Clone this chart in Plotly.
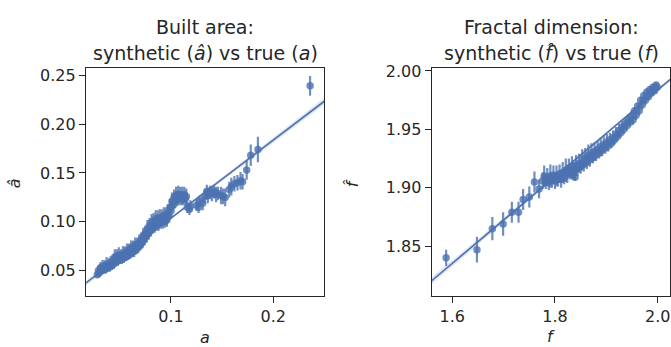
import plotly.graph_objects as go
import numpy as np

# ---------------- data: built area ----------------
a_true = [0.028, 0.029, 0.030, 0.031, 0.032, 0.033, 0.034, 0.035, 0.036, 0.037,
          0.038, 0.039, 0.040, 0.041, 0.042, 0.043, 0.044, 0.045, 0.046, 0.047,
          0.048, 0.049, 0.050, 0.051, 0.052, 0.053, 0.054, 0.055, 0.056, 0.057,
          0.058, 0.059, 0.060, 0.061, 0.062, 0.063, 0.064, 0.065, 0.066, 0.067,
          0.068, 0.069, 0.070, 0.071, 0.072, 0.073, 0.074, 0.075, 0.076, 0.077,
          0.078, 0.079, 0.080, 0.081, 0.082, 0.083, 0.084, 0.085, 0.086, 0.087,
          0.088, 0.089, 0.090, 0.091, 0.092, 0.093, 0.094, 0.095, 0.096, 0.097,
          0.098, 0.099, 0.100, 0.101, 0.102, 0.103, 0.104, 0.105, 0.106, 0.107,
          0.108, 0.109, 0.110, 0.111, 0.112, 0.113, 0.114, 0.115,
          0.116, 0.118, 0.119, 0.125, 0.127, 0.128, 0.131, 0.133, 0.135, 0.136,
          0.138, 0.140, 0.142, 0.144, 0.146, 0.149, 0.151, 0.153, 0.157, 0.159,
          0.162, 0.165, 0.168, 0.170, 0.174, 0.178, 0.185, 0.236]
a_synth = [0.046, 0.050, 0.048, 0.053, 0.050, 0.054, 0.051, 0.055, 0.052, 0.056,
           0.053, 0.057, 0.054, 0.058, 0.055, 0.060, 0.057, 0.064, 0.059, 0.065,
           0.060, 0.066, 0.061, 0.066, 0.062, 0.067, 0.063, 0.068, 0.064, 0.070,
           0.066, 0.071, 0.067, 0.073, 0.069, 0.074, 0.070, 0.076, 0.072, 0.077,
           0.074, 0.079, 0.076, 0.082, 0.079, 0.086, 0.082, 0.089, 0.085, 0.093,
           0.088, 0.096, 0.091, 0.099, 0.094, 0.101, 0.096, 0.103, 0.097, 0.104,
           0.098, 0.104, 0.099, 0.105, 0.100, 0.106, 0.100, 0.107, 0.102, 0.109,
           0.106, 0.115, 0.111, 0.121, 0.117, 0.125, 0.121, 0.127, 0.123, 0.128,
           0.124, 0.128, 0.124, 0.127, 0.123, 0.128, 0.124, 0.126,
           0.115, 0.113, 0.116, 0.117, 0.115, 0.121, 0.119, 0.126, 0.131, 0.127,
           0.130, 0.129, 0.131, 0.128, 0.129, 0.127, 0.126, 0.125, 0.133, 0.136,
           0.139, 0.140, 0.142, 0.141, 0.153, 0.168, 0.174, 0.239]
a_err = [0.003, 0.005, 0.004, 0.006, 0.004, 0.007, 0.004, 0.006, 0.005, 0.008,
         0.004, 0.006, 0.005, 0.007, 0.004, 0.006, 0.005, 0.008, 0.004, 0.007,
         0.005, 0.008, 0.004, 0.006, 0.005, 0.008, 0.005, 0.007, 0.004, 0.008,
         0.005, 0.007, 0.005, 0.008, 0.005, 0.007, 0.006, 0.008, 0.005, 0.007,
         0.006, 0.008, 0.005, 0.007, 0.006, 0.008, 0.006, 0.007, 0.006, 0.009,
         0.006, 0.008, 0.006, 0.009, 0.006, 0.008, 0.007, 0.009, 0.006, 0.008,
         0.007, 0.009, 0.006, 0.008, 0.007, 0.009, 0.006, 0.008, 0.007, 0.009,
         0.006, 0.008, 0.007, 0.009, 0.006, 0.008, 0.007, 0.009, 0.007, 0.009,
         0.007, 0.008, 0.007, 0.009, 0.006, 0.008, 0.007, 0.008,
         0.006, 0.006, 0.006, 0.006, 0.006, 0.006, 0.007, 0.007, 0.007, 0.008,
         0.007, 0.008, 0.007, 0.008, 0.007, 0.009, 0.008, 0.009, 0.008, 0.009,
         0.008, 0.008, 0.009, 0.008, 0.010, 0.011, 0.013, 0.010]
a_fit_slope = 0.797
a_fit_intercept = 0.0241
a_ci_x = [0.0169, 0.09, 0.25]
a_ci_half = [0.0025, 0.0008, 0.0035]

# ---------------- data: fractal dimension ----------------
f_true = [1.588, 1.648, 1.678, 1.699, 1.716, 1.729, 1.738, 1.750, 1.760, 1.769,
          1.776, 1.779, 1.782, 1.785, 1.788, 1.791, 1.794, 1.797, 1.800, 1.803,
          1.806, 1.809, 1.812, 1.815, 1.818, 1.821, 1.824, 1.827, 1.830, 1.833,
          1.835, 1.837, 1.839, 1.841, 1.844, 1.847, 1.850, 1.853, 1.856, 1.859,
          1.862, 1.865, 1.868, 1.871, 1.874, 1.877, 1.880, 1.883, 1.886, 1.889,
          1.892, 1.895, 1.898, 1.901, 1.904, 1.907, 1.910, 1.913, 1.916, 1.919,
          1.922, 1.925, 1.928, 1.931, 1.934, 1.937, 1.940, 1.943, 1.946, 1.949,
          1.952, 1.955, 1.958, 1.961, 1.964, 1.967, 1.970, 1.973, 1.976, 1.979,
          1.982, 1.985, 1.988, 1.991, 1.994, 1.997, 1.999]
f_synth = [1.840, 1.847, 1.865, 1.869, 1.879, 1.879, 1.890, 1.892, 1.905, 1.899,
           1.906, 1.910, 1.905, 1.909, 1.905, 1.910, 1.906, 1.911, 1.906, 1.910,
           1.907, 1.912, 1.907, 1.913, 1.909, 1.915, 1.911, 1.917, 1.913, 1.918,
           1.911, 1.915, 1.909, 1.919, 1.916, 1.921, 1.918, 1.924, 1.920, 1.926,
           1.922, 1.928, 1.924, 1.930, 1.926, 1.931, 1.928, 1.933, 1.930, 1.935,
           1.932, 1.937, 1.934, 1.939, 1.936, 1.941, 1.938, 1.943, 1.941, 1.946,
           1.944, 1.949, 1.947, 1.952, 1.950, 1.955, 1.953, 1.958, 1.956, 1.961,
           1.958, 1.966, 1.962, 1.970, 1.966, 1.975, 1.971, 1.979, 1.975, 1.982,
           1.978, 1.984, 1.981, 1.986, 1.983, 1.988, 1.986]
f_err = [0.007, 0.011, 0.010, 0.010, 0.009, 0.009, 0.009, 0.009, 0.009, 0.008,
         0.007, 0.009, 0.006, 0.008, 0.007, 0.010, 0.006, 0.008, 0.007, 0.009,
         0.006, 0.008, 0.007, 0.009, 0.006, 0.010, 0.007, 0.008, 0.006, 0.009,
         0.004, 0.007, 0.003, 0.009, 0.006, 0.008, 0.006, 0.009, 0.006, 0.008,
         0.006, 0.009, 0.006, 0.008, 0.005, 0.008, 0.005, 0.007, 0.005, 0.008,
         0.005, 0.007, 0.005, 0.007, 0.005, 0.006, 0.004, 0.006, 0.004, 0.006,
         0.004, 0.006, 0.004, 0.005, 0.004, 0.005, 0.004, 0.005, 0.004, 0.005,
         0.004, 0.003, 0.004, 0.003, 0.004, 0.003, 0.004, 0.003, 0.004, 0.003,
         0.003, 0.003, 0.003, 0.003, 0.002, 0.002, 0.002]
f_fit_slope = 0.371
f_fit_intercept = 1.8204 - 0.371 * 1.5599
f_ci_x = [1.5599, 1.90, 2.024]
f_ci_half = [0.0030, 0.0006, 0.0015]

# axis ranges & ticks
a_xrange = [0.0169, 0.2499]
a_yrange = [0.0242, 0.2570]
f_xrange = [1.5599, 2.0240]
f_yrange = [1.8073, 2.0023]
a_xticks = [0.1, 0.2]
a_yticks = [0.05, 0.10, 0.15, 0.20, 0.25]
f_xticks = [1.6, 1.8, 2.0]
f_yticks = [1.85, 1.90, 1.95, 2.00]

BLUE = "#4C72B0"
BLUE_A = "rgba(76,114,176,0.8)"
TXT = "#262626"
FONT = "DejaVu Sans"

fig = go.Figure()


def add_panel(xs, ys, errs, slope, intercept, ci_x, ci_half, xr, xa, ya):
    ci_x = np.array(ci_x)
    fit_ci = intercept + slope * ci_x
    half = np.array(ci_half)
    # CI band
    fig.add_trace(go.Scatter(x=list(ci_x), y=list(fit_ci - half), mode="lines",
                             line=dict(width=0, color=BLUE), hoverinfo="skip",
                             showlegend=False, xaxis=xa, yaxis=ya))
    fig.add_trace(go.Scatter(x=list(ci_x), y=list(fit_ci + half), mode="lines",
                             line=dict(width=0, color=BLUE), fill="tonexty",
                             fillcolor="rgba(76,114,176,0.18)", hoverinfo="skip",
                             showlegend=False, xaxis=xa, yaxis=ya))
    # points with error bars
    fig.add_trace(go.Scatter(x=xs, y=ys, mode="markers",
                             marker=dict(size=7.5, color=BLUE_A, line=dict(width=0)),
                             error_y=dict(type="data", array=errs, visible=True,
                                          color=BLUE_A, thickness=2.2, width=0),
                             showlegend=False, xaxis=xa, yaxis=ya))
    # regression line
    lx = np.array(xr)
    fig.add_trace(go.Scatter(x=list(lx), y=list(intercept + slope * lx), mode="lines",
                             line=dict(color=BLUE, width=1.6), showlegend=False,
                             xaxis=xa, yaxis=ya))


add_panel(a_true, a_synth, a_err, a_fit_slope, a_fit_intercept, a_ci_x, a_ci_half,
          a_xrange, "x", "y")
add_panel(f_true, f_synth, f_err, f_fit_slope, f_fit_intercept, f_ci_x, f_ci_half,
          f_xrange, "x2", "y2")

W, H = 671, 347
ydom = [(H - 295) / H, (H - 62.5) / H]

axis_common = dict(showline=True, mirror=True, linecolor=TXT, linewidth=1.25,
                   ticks="outside", ticklen=6, tickwidth=1.25, tickcolor=TXT,
                   showgrid=False, zeroline=False,
                   tickfont=dict(family=FONT, size=16, color=TXT))

fig.update_layout(
    width=W, height=H,
    margin=dict(l=0, r=0, t=0, b=0),
    paper_bgcolor="white", plot_bgcolor="white",
    font=dict(family=FONT, color=TXT),
    xaxis=dict(domain=[86 / W, 324.3 / W], range=a_xrange, tickvals=a_xticks,
               tickformat=".1f", anchor="y", **axis_common),
    yaxis=dict(domain=ydom, range=a_yrange, tickvals=a_yticks,
               tickformat=".2f", anchor="x", **axis_common),
    xaxis2=dict(domain=[431.7 / W, 670 / W], range=f_xrange, tickvals=f_xticks,
                tickformat=".1f", anchor="y2", **axis_common),
    yaxis2=dict(domain=ydom, range=f_yrange, tickvals=f_yticks,
                tickformat=".2f", anchor="x2", **axis_common),
)


def ann(text, px, py, size, angle=0):
    fig.add_annotation(text=text, x=px / W, y=1 - py / H, xref="paper", yref="paper",
                       xanchor="center", yanchor="middle", showarrow=False,
                       textangle=angle, font=dict(family=FONT, size=size, color=TXT))


ann("Built area:", 205, 20, 19)
ann("synthetic (<i>â</i>) vs true (<i>a</i>)", 205, 47, 19)
ann("Fractal dimension:", 551, 20, 19)
ann("synthetic (<i>f\u0302</i>) vs true (<i>f</i>)", 551, 47, 19)
ann("<i>a</i>", 205, 337, 16)
ann("<i>f</i>", 551, 336, 16)
ann("<i>â</i>", 14, 180, 16, -90)
ann("<i>f\u0302</i>", 352, 180, 16, -90)

fig.write_html("out.html")
